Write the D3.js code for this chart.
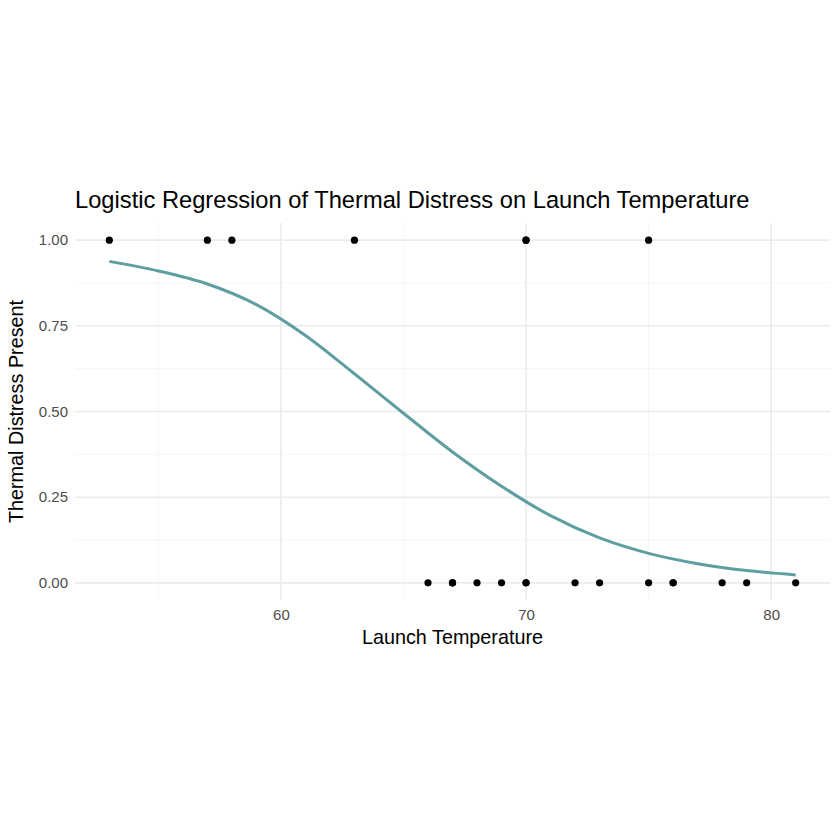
<!DOCTYPE html>
<html><head><meta charset="utf-8">
<script src="https://cdn.jsdelivr.net/npm/d3@7"></script>
<style>body{margin:0;background:#fff}text{font-family:"Liberation Sans",Arial,sans-serif}</style>
</head><body><div id="chart"></div>
<script>
// observations (launch temperature, distress 0/1)
var temps = [66,70,69,68,67,72,73,70,57,63,70,78,67,53,67,75,70,81,76,79,75,76,58];
var distress = [0,1,0,0,0,0,0,0,1,1,1,0,0,1,0,0,0,0,0,0,1,0,1];
// fitted curve
var curveX = [53,55,57,59,61,63,65,67,69,71,73,75,77,79,81];
var curveY = [0.938,0.91,0.872,0.812,0.722,0.61,0.495,0.382,0.282,0.196,0.131,0.086,0.056,0.036,0.023];
var yTicks = [0, 0.25, 0.5, 0.75, 1];
var xTicks = [60, 70, 80];

var W = 840, H = 840;
var margin = {top: 223, right: 10, bottom: 240, left: 75};
var width = W - margin.left - margin.right, height = H - margin.top - margin.bottom;

var svg = d3.select("#chart").append("svg").attr("width", W).attr("height", H);
var g = svg.append("g").attr("transform", `translate(${margin.left},${margin.top})`);

var x = d3.scaleLinear().domain([51.6, 82.4]).range([0, width]);
var y = d3.scaleLinear().domain([-0.05, 1.05]).range([height, 0]);

// minor grid
[55, 65, 75].forEach(v => g.append("line").attr("x1", x(v)).attr("x2", x(v)).attr("y1", 0).attr("y2", height).attr("stroke", "#f3f3f3").attr("stroke-width", 0.8));
[0.125, 0.375, 0.625, 0.875].forEach(v => g.append("line").attr("x1", 0).attr("x2", width).attr("y1", y(v)).attr("y2", y(v)).attr("stroke", "#f3f3f3").attr("stroke-width", 0.8));
// major grid
xTicks.forEach(v => g.append("line").attr("x1", x(v)).attr("x2", x(v)).attr("y1", 0).attr("y2", height).attr("stroke", "#ebebeb").attr("stroke-width", 1.6));
yTicks.forEach(v => g.append("line").attr("x1", 0).attr("x2", width).attr("y1", y(v)).attr("y2", y(v)).attr("stroke", "#ebebeb").attr("stroke-width", 1.6));

var xAxis = g.append("g").attr("transform", `translate(0,${height})`)
  .call(d3.axisBottom(x).tickValues(xTicks).tickSize(0).tickPadding(9));
var yAxis = g.append("g")
  .call(d3.axisLeft(y).tickValues(yTicks).tickFormat(d3.format(".2f")).tickSize(0).tickPadding(7));
[xAxis, yAxis].forEach(a => {
  a.select(".domain").remove();
  a.selectAll("text").attr("fill", "#4d4d4d").style("font-size", "15px");
});

var line = d3.line().x((d, i) => x(curveX[i])).y(d => y(d)).curve(d3.curveCatmullRom);
g.append("path").attr("d", line(curveY)).attr("fill", "none").attr("stroke", "#5F9EA0").attr("stroke-width", 3);

g.selectAll("circle").data(temps).enter().append("circle")
  .attr("cx", d => x(d)).attr("cy", (d, i) => y(distress[i])).attr("r", 3.6).attr("fill", "#000");

svg.append("text").attr("x", 75).attr("y", 208).style("font-size", "23.7px").text("Logistic Regression of Thermal Distress on Launch Temperature");
svg.append("text").attr("x", margin.left + width / 2).attr("y", 644).attr("text-anchor", "middle").style("font-size", "19.8px").text("Launch Temperature");
svg.append("text").attr("transform", `translate(23,${margin.top + height / 2}) rotate(-90)`).attr("text-anchor", "middle").style("font-size", "19.8px").text("Thermal Distress Present");
</script></body></html>
